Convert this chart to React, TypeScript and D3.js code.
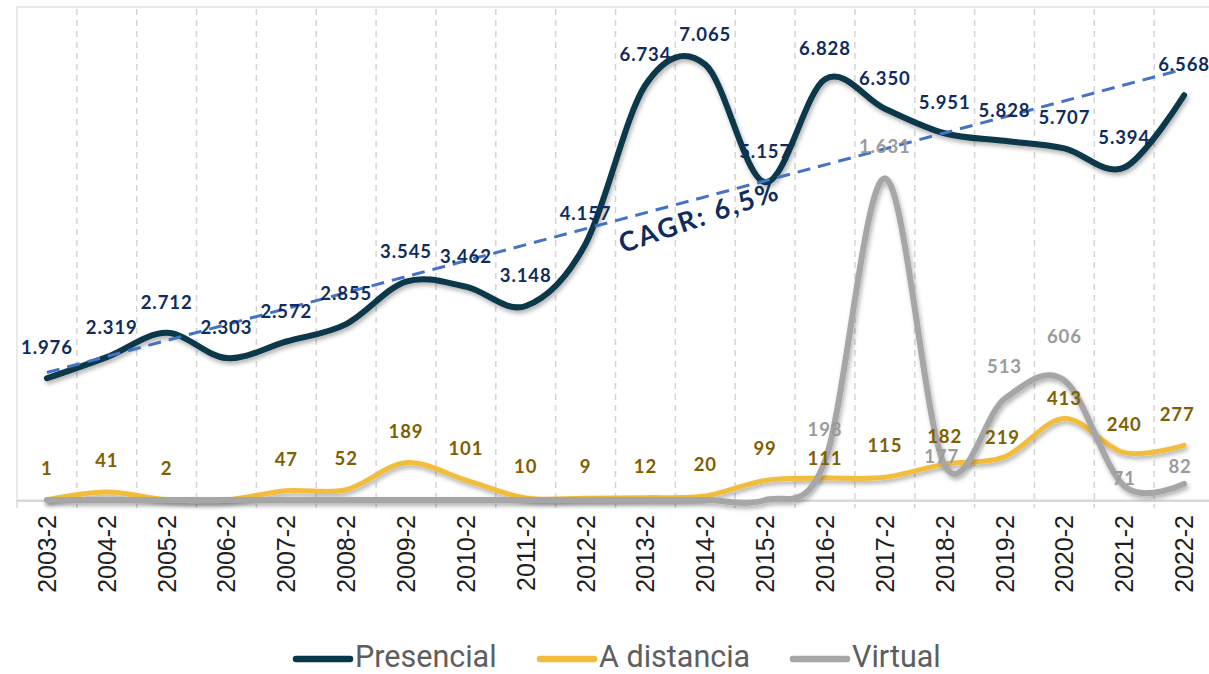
import React from 'react';
import * as d3 from 'd3';

const categories = ['2003-2','2004-2','2005-2','2006-2','2007-2','2008-2','2009-2','2010-2','2011-2','2012-2','2013-2','2014-2','2015-2','2016-2','2017-2','2018-2','2019-2','2020-2','2021-2','2022-2'];
const presencial = [1976,2319,2712,2303,2572,2855,3545,3462,3148,4157,6734,7065,5157,6828,6350,5951,5828,5707,5394,6568];
const aDistancia = [1,41,2,0,47,52,189,101,10,9,12,20,99,111,115,182,219,413,240,277];
const virtual = [0,0,0,0,0,0,0,0,0,0,0,0,0,198,1631,177,513,606,71,82];
const cagrLabel = 'CAGR: 6,5%';
const seriesNames = ['Presencial', 'A distancia', 'Virtual'];

const W = 1209, H = 674;
const L = 17, R = 1214, T = 7, B = 500;

const COL_P = '#07374A';
const COL_A = '#F2BD3C';
const COL_V = '#A6A6A6';
const LBL_P = '#102C5E';
const LBL_A = '#7F6000';
const LBL_V = '#9B9B9B';

// label offset tweaks (layout only)
const offA: Record<number, [number, number]> = { 13: [0, -20], 15: [0, -28], 16: [-2, -20], 17: [0, -21], 18: [0, -29], 19: [-7, -31] };
const offV: Record<number, [number, number]> = { 15: [-3, -9], 16: [0, -33], 17: [0, -44], 18: [0, -8], 19: [-4, -18] };
const offP: Record<number, [number, number]> = { 1: [5, -30] };

const fmt = (v: number) => d3.format(',')(v).replace(/,/g, '.');

export default function App() {
  const x = d3.scaleBand<string>().domain(categories).range([L, R]);
  const cx = (i: number) => (x(categories[i]) as number) + x.bandwidth() / 2;
  const yL = d3.scaleLinear().domain([0, 8000]).range([B, T]);
  const yR = d3.scaleLinear().domain([0, 2500]).range([B, T]);

  const mk = (vals: number[], y: d3.ScaleLinear<number, number>) =>
    d3.line<number>().x((_, i) => cx(i)).y(d => y(d)).curve(d3.curveCatmullRom.alpha(0))(vals) || '';

  // linear trendline from presencial
  const n = presencial.length;
  const xs = presencial.map((_, i) => i + 1);
  const mx = d3.mean(xs) as number;
  const my = d3.mean(presencial) as number;
  const sxy = d3.sum(xs.map((xi, i) => (xi - mx) * (presencial[i] - my)));
  const sxx = d3.sum(xs.map(xi => (xi - mx) ** 2));
  const slope = sxy / sxx;
  const icpt = my - slope * mx;
  const t0 = icpt + slope * 1;
  const t1 = icpt + slope * n;

  const labelFont = { fontFamily: 'Lato, sans-serif', fontWeight: 700, fontSize: 18.5, letterSpacing: 0.9 } as const;

  const legendItems = [
    { name: seriesNames[0], color: COL_P, x: 293 },
    { name: seriesNames[1], color: COL_A, x: 537 },
    { name: seriesNames[2], color: COL_V, x: 790 },
  ];

  return (
    <svg width={W} height={H} style={{ position: 'absolute', left: 0, top: 0, background: '#fff' }}>
      <defs>
        <filter id="sh" x="-10%" y="-10%" width="120%" height="130%">
          <feDropShadow dx="1.5" dy="3" stdDeviation="2" floodColor="#000" floodOpacity="0.3" />
        </filter>
      </defs>
      {/* plot border */}
      <rect x={L} y={T} width={R - L} height={B - T} fill="none" stroke="#EAEAEA" strokeWidth={2} />
      {/* gridlines */}
      {categories.slice(1).map(c => (
        <line key={c} x1={x(c)} x2={x(c)} y1={T + 2} y2={B + 8} stroke="#D4D4D4" strokeWidth={1.5} strokeDasharray="6,5" />
      ))}
      <line x1={L} x2={L} y1={B} y2={B + 8} stroke="#D9D9D9" strokeWidth={1.5} />
      <line x1={L} x2={R} y1={B + 1} y2={B + 1} stroke="#D9D9D9" strokeWidth={2} />

      {/* series */}
      <path d={mk(presencial, yL)} fill="none" stroke={COL_P} strokeWidth={6} strokeLinecap="round" filter="url(#sh)" />
      <path d={mk(aDistancia, yR)} fill="none" stroke={COL_A} strokeWidth={5} strokeLinecap="round" filter="url(#sh)" />
      <path d={mk(virtual, yR)} fill="none" stroke={COL_V} strokeWidth={6} strokeLinecap="round" filter="url(#sh)" />

      {/* trendline */}
      <line x1={cx(0)} x2={cx(n - 1)} y1={yL(t0)} y2={yL(t1)} stroke="#4472C4" strokeWidth={3} strokeDasharray="13,8" />
      <text transform={`translate(699,216) rotate(-19)`} textAnchor="middle" dominantBaseline="central"
        style={{ fontFamily: 'Lato, sans-serif', fontWeight: 700, fontSize: 27, letterSpacing: 2.2 }} fill={LBL_P}>{cagrLabel}</text>

      {/* labels */}
      {presencial.map((v, i) => {
        const o = offP[i] || [0, -31];
        return <text key={'p' + i} x={cx(i) + o[0]} y={yL(v) + o[1]} textAnchor="middle" dominantBaseline="central" style={labelFont} fill={LBL_P}>{fmt(v)}</text>;
      })}
      {aDistancia.map((v, i) => {
        if (v === 0) return null;
        const o = offA[i] || [0, -32];
        return <text key={'a' + i} x={cx(i) + o[0]} y={yR(v) + o[1]} textAnchor="middle" dominantBaseline="central" style={labelFont} fill={LBL_A}>{fmt(v)}</text>;
      })}
      {virtual.map((v, i) => {
        if (v === 0) return null;
        const o = offV[i] || [0, -32];
        return <text key={'v' + i} x={cx(i) + o[0]} y={yR(v) + o[1]} textAnchor="middle" dominantBaseline="central" style={labelFont} fill={LBL_V}>{fmt(v)}</text>;
      })}

      {/* x axis labels */}
      {categories.map((c, i) => (
        <text key={c} transform={`translate(${cx(i)},515) rotate(-90)`} textAnchor="end" dominantBaseline="central"
          style={{ fontFamily: '"Liberation Sans", Arial, sans-serif', fontSize: 25 }} fill="#1E1E1E">{c}</text>
      ))}

      {/* legend */}
      {legendItems.map(it => (
        <g key={it.name}>
          <line x1={it.x + 3} x2={it.x + 57} y1={659} y2={659} stroke={it.color} strokeWidth={6.5} strokeLinecap="round" />
          <text x={it.x + 62} y={667} style={{ fontFamily: 'Roboto, sans-serif', fontSize: 30.5, fontWeight: 400 }} fill="#5E5E5E">{it.name}</text>
        </g>
      ))}
    </svg>
  );
}
